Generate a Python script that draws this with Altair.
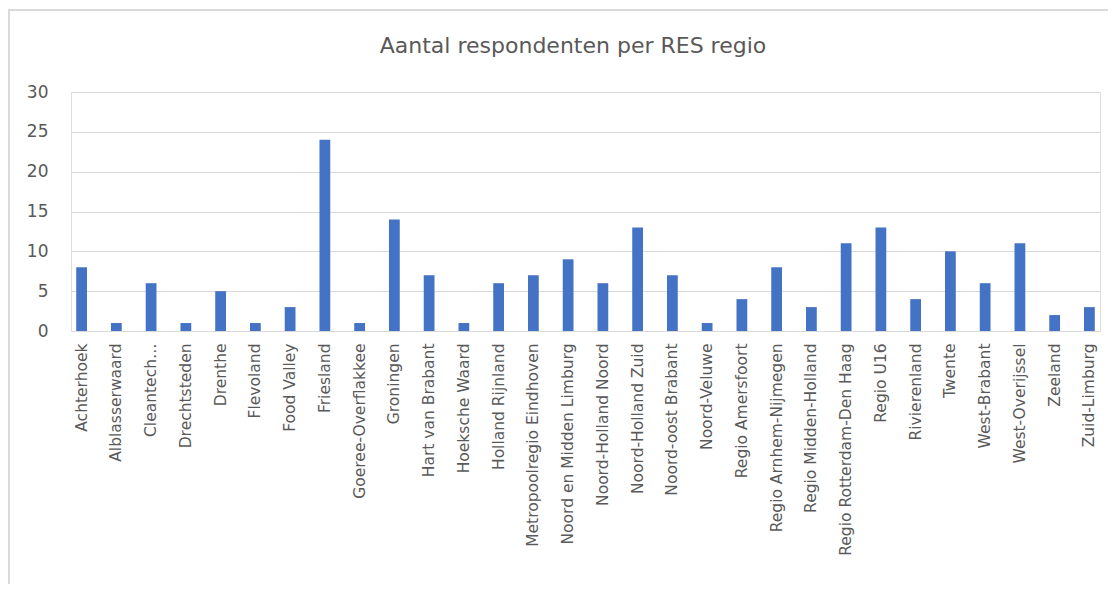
import altair as alt
import pandas as pd

regions = [
    "Achterhoek", "Alblasserwaard", "Cleantech Regio", "Drechtsteden", "Drenthe",
    "Flevoland", "Food Valley", "Friesland", "Goeree-Overflakkee", "Groningen",
    "Hart van Brabant", "Hoeksche Waard", "Holland Rijnland", "Metropoolregio Eindhoven",
    "Noord en Midden Limburg", "Noord-Holland Noord", "Noord-Holland Zuid",
    "Noord-oost Brabant", "Noord-Veluwe", "Regio Amersfoort", "Regio Arnhem-Nijmegen",
    "Regio Midden-Holland", "Regio Rotterdam-Den Haag", "Regio U16", "Rivierenland",
    "Twente", "West-Brabant", "West-Overijssel", "Zeeland", "Zuid-Limburg",
]
counts = [8, 1, 6, 1, 5, 1, 3, 24, 1, 14, 7, 1, 6, 7, 9, 6, 13, 7, 1, 4, 8, 3, 11, 13, 4, 10, 6, 11, 2, 3]
y_ticks = [0, 5, 10, 15, 20, 25, 30]
title_text = ["Aantal respondenten per RES regio"]

df = pd.DataFrame({"regio": regions, "aantal": counts})
title_df = pd.DataFrame({"t": title_text})

FONT = "DejaVu Sans"
GREY = "#595959"

bars = alt.Chart(df).mark_bar(color="#4472C4").encode(
    x=alt.X(
        "regio:N",
        sort=regions,
        scale=alt.Scale(paddingInner=0.69, paddingOuter=0.15),
        axis=alt.Axis(
            title=None,
            labelAngle=-90,
            labelAlign="right",
            labelBaseline="middle",
            labelFontSize=15.5,
            labelColor=GREY,
            labelFont=FONT,
            labelPadding=12,
            ticks=False,
            domainColor="#d9d9d9",
            domainWidth=1,
            labelExpr="datum.value == 'Cleantech Regio' ? 'Cleantech…' : datum.value",
            labelLimit=400,
        ),
    ),
    y=alt.Y(
        "aantal:Q",
        scale=alt.Scale(domain=[0, 30], nice=False),
        axis=alt.Axis(
            title=None,
            values=y_ticks,
            labelFontSize=17,
            labelColor=GREY,
            labelFont=FONT,
            labelPadding=23,
            ticks=False,
            domain=False,
            gridColor="#d9d9d9",
            gridWidth=1,
        ),
    ),
)

border = alt.Chart(df).mark_rect(fill=None, stroke="#d9d9d9", strokeWidth=1.5).encode(
    x=alt.value(-62.5), x2=alt.value(1200), y=alt.value(-82), y2=alt.value(700)
)

title = alt.Chart(title_df).mark_text(
    font=FONT, fontSize=22, color=GREY, align="center", baseline="alphabetic"
).encode(text="t:N", x=alt.value(502), y=alt.value(-39))

chart = alt.layer(border, bars, title).properties(
    width=1029,
    height=239,
    autosize=alt.AutoSizeParams(type="none"),
    padding={"left": 63, "top": 84, "right": 8, "bottom": 253},
).configure_view(stroke=None).configure(background="white")

chart.save("out.html", embed_options={"renderer": "svg", "actions": False})
